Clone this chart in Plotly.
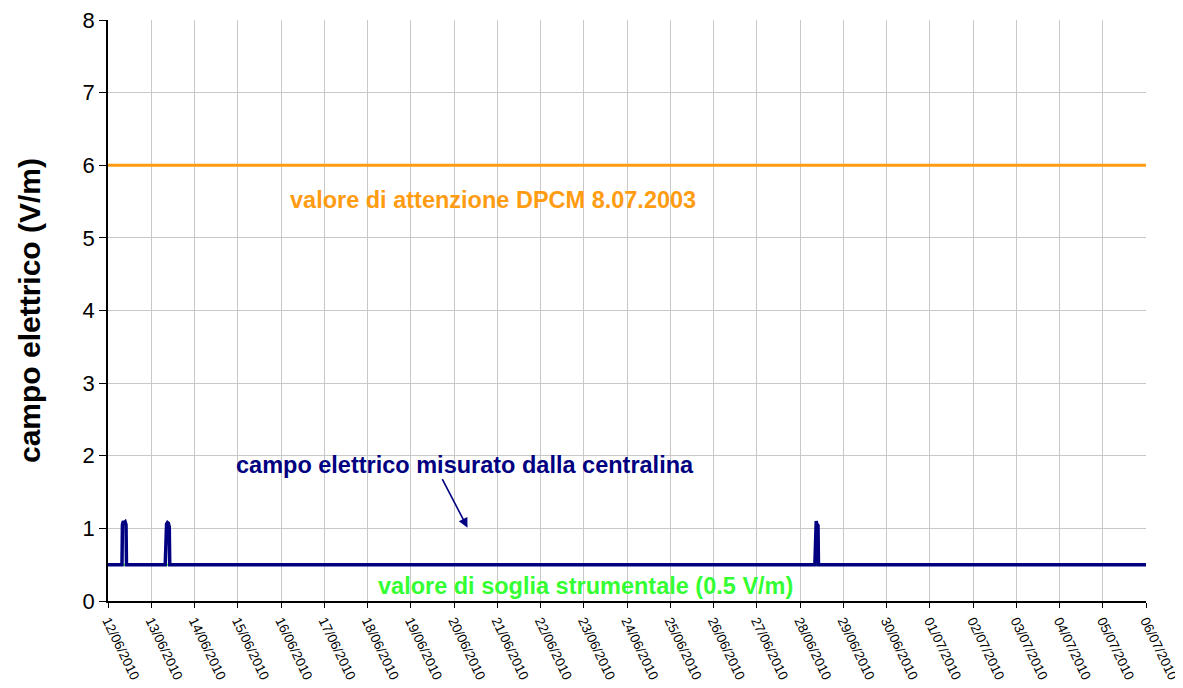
import plotly.graph_objects as go

# Measured electric field (V/m)
times = ["2010-06-12 00:00", "2010-06-12 07:45", "2010-06-12 08:00", "2010-06-12 08:30", "2010-06-12 09:00",
         "2010-06-12 09:30", "2010-06-12 10:00", "2010-06-12 10:15",
         "2010-06-13 07:45", "2010-06-13 08:00", "2010-06-13 08:30", "2010-06-13 09:00",
         "2010-06-13 09:30", "2010-06-13 10:00", "2010-06-13 10:15",
         "2010-06-28 08:15", "2010-06-28 08:30", "2010-06-28 09:00", "2010-06-28 09:30",
         "2010-06-28 10:00", "2010-06-28 10:15", "2010-07-06 00:00"]
field = [0.5, 0.5, 1.05, 1.1, 1.08, 1.09, 1.05, 0.5,
         0.5, 1.0, 1.06, 1.08, 1.07, 1.02, 0.5,
         0.5, 1.05, 1.1, 1.05, 1.04, 0.5, 0.5]

limit_x = ["2010-06-12 00:00", "2010-07-06 00:00"]
attention_value = [6, 6]
threshold_value = [0.5, 0.5]

FONT = "Liberation Sans, Arial"

fig = go.Figure()
fig.add_trace(go.Scatter(x=limit_x, y=attention_value, mode="lines",
                         line=dict(color="#FF9C12", width=3), showlegend=False))
fig.add_trace(go.Scatter(x=limit_x, y=threshold_value, mode="lines",
                         line=dict(color="#33FF33", width=2), showlegend=False))
fig.add_trace(go.Scatter(x=times, y=field, mode="lines",
                         line=dict(color="#000080", width=3.5), showlegend=False))

fig.add_annotation(x="2010-06-20 21:40", y=5.52, text="<b>valore di attenzione DPCM 8.07.2003</b>",
                   showarrow=False, font=dict(color="#FF9C12", size=23.5, family=FONT))
fig.add_annotation(x="2010-06-23 00:45", y=0.21, text="<b>valore di soglia strumentale (0.5 V/m)</b>",
                   showarrow=False, font=dict(color="#33FF33", size=23.5, family=FONT))
fig.add_annotation(x="2010-06-20 06:00", y=1.87, text="<b>campo elettrico misurato dalla centralina</b>",
                   showarrow=False, font=dict(color="#000080", size=23.5, family=FONT))
fig.add_annotation(x="2010-06-20 07:30", y=1.01, text="", showarrow=True,
                   ax=-26, ay=-50, arrowhead=2, arrowsize=1.2, arrowwidth=1.6, arrowcolor="#000080")

tickvals = ["2010-06-%02d" % d for d in range(12, 31)] + ["2010-07-%02d" % d for d in range(1, 7)]

fig.update_layout(
    width=1175, height=680,
    margin=dict(l=100, r=37, t=12, b=87),
    plot_bgcolor="white", paper_bgcolor="white",
    font=dict(family=FONT, color="black"),
)
fig.update_xaxes(type="date", range=["2010-06-12", "2010-07-06"], automargin=False,
                 tickvals=tickvals, tickformat="%d/%m/%Y", tickangle=64,
                 ticklabeloverflow="allow",
                 tickfont=dict(size=13.5), showgrid=True, gridcolor="#C8C8C8", gridwidth=1,
                 showline=True, linecolor="black", linewidth=1.5,
                 ticks="outside", ticklen=5, tickcolor="black", zeroline=False)
fig.update_yaxes(range=[0, 8], dtick=1, tickfont=dict(size=22), automargin=False,
                 ticklabeloverflow="allow",
                 title=dict(text="<b>campo elettrico (V/m)</b>", font=dict(size=30), standoff=33),
                 showgrid=True, gridcolor="#C8C8C8", gridwidth=1,
                 showline=True, linecolor="black", linewidth=1.5,
                 ticks="outside", ticklen=7, tickcolor="black", zeroline=False)

fig.write_html("out.html")
